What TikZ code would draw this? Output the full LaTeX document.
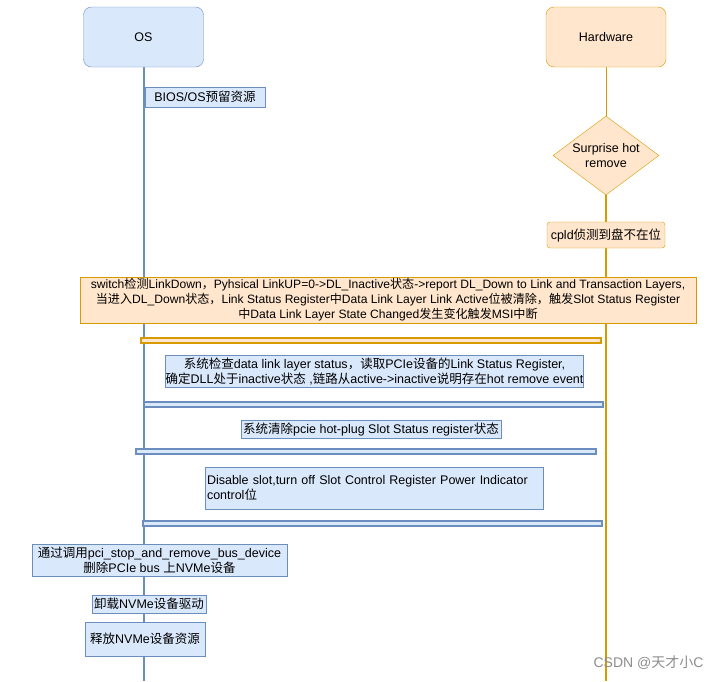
\documentclass[tikz,border=0pt]{standalone}
\usepackage{fontspec}
\setmainfont{Liberation Sans}
\newfontfamily\cjk{Noto Sans CJK SC}
\usetikzlibrary{shapes.geometric,backgrounds}
% CJK characters switch to the CJK font
\XeTeXinterchartokenstate=1
\newXeTeXintercharclass\cjkcls
\newcount\cjkc
\cjkc="4E00
\loop \XeTeXcharclass\cjkc=\cjkcls \advance\cjkc by 1 \ifnum\cjkc<"A000 \repeat
\XeTeXcharclass"FF0C=\cjkcls
\XeTeXinterchartoks 0 \cjkcls = {\begingroup\cjk}
\XeTeXinterchartoks 4095 \cjkcls = {\begingroup\cjk}
\XeTeXinterchartoks \cjkcls 0 = {\endgroup}
\XeTeXinterchartoks \cjkcls 4095 = {\endgroup}
\definecolor{osfill}{HTML}{DAE8FC}
\definecolor{osline}{HTML}{6C8EBF}
\definecolor{hwfill}{HTML}{FFE6CC}
\definecolor{hwline}{HTML}{D79B00}
\tikzset{
  every node/.style={font=\fontsize{12.5}{15}\selectfont, inner sep=0pt},
  osbox/.style={draw=osline, fill=osfill, rounded corners=8pt, minimum width=120pt, minimum height=60pt},
  hwbox/.style={draw=hwline, fill=hwfill, rounded corners=8pt, minimum width=120pt, minimum height=60pt},
  osnote/.style={draw=osline, fill=osfill, align=center},
  hwnote/.style={draw=hwline, fill=hwfill, align=center},
  osbar/.style={draw=osline, fill=osfill, line width=1.5pt, minimum height=5pt},
  hwbar/.style={draw=hwline, fill=hwfill, line width=1.5pt, minimum height=5pt}
}
\begin{document}
\begin{tikzpicture}[x=1pt,y=-1pt]
\useasboundingbox (0,0) rectangle (722,681);
% participants
\node[osbox] (os) at (143.5,37) {OS};
\node[hwbox] (hw) at (606,37) {Hardware};
\coordinate (osend) at (143.5,681);
\coordinate (hwend) at (606,681);
% hardware side
\node[diamond, draw=hwline, fill=hwfill, aspect=1.34, minimum width=106pt, minimum height=79pt, align=center] (surp) at (606,155.5) {Surprise hot\\remove};
\node[hwnote, rounded corners=3pt, minimum width=118pt, minimum height=26pt] (cpld) at (606,235) {cpld侦测到盘不在位};
% steps
\node[osnote, minimum width=120pt, minimum height=20pt] (bios) at (205,97) {BIOS/OS预留资源};
\node[hwnote, minimum width=616pt, minimum height=46pt, font=\fontsize{12.1}{15}\selectfont] (linkdown) at (388,300) {switch检测LinkDown，Pyhsical LinkUP=0->DL\_Inactive状态->report DL\_Down to Link and Transaction Layers,\\当进入DL\_Down状态，Link Status Register中Data Link Layer Link Active位被清除，触发Slot Status Register\\中Data Link Layer State Changed发生变化触发MSI中断};
\node[hwbar, minimum width=460pt] (bar1) at (371,340.5) {};
\node[osnote, minimum width=413pt, minimum height=32pt] (check) at (374.5,371) {系统检查data link layer status，读取PCIe设备的Link Status Register,\\确定DLL处于inactive状态 ,链路从active->inactive说明存在hot remove event};
\node[osbar, minimum width=459pt] (bar2) at (373.5,404.5) {};
\node[osnote, minimum width=260pt, minimum height=18pt] (clear) at (371,429) {系统清除pcie hot-plug Slot Status register状态};
\node[osbar, minimum width=460pt] (bar3) at (366,451.5) {};
\node[osnote, minimum width=338pt, minimum height=42pt, text width=334pt, align=left] (disable) at (374,488) {Disable slot,turn off Slot Control Register Power Indicator\\control位};
\node[osbar, minimum width=459pt] (bar4) at (372.5,523.5) {};
\node[osnote, minimum width=255pt, minimum height=32pt] (remove) at (159.5,560) {通过调用pci\_stop\_and\_remove\_bus\_device\\删除PCIe bus 上NVMe设备};
\node[osnote, minimum width=114pt, minimum height=18pt] (unload) at (149,604) {卸载NVMe设备驱动};
\node[osnote, minimum width=120pt, minimum height=34pt] (release) at (145,639) {释放NVMe设备资源};
\node[text=black!45, font=\fontsize{14}{16}\selectfont] (mark) at (648.5,663) {CSDN @天才小C};
% lifelines
\begin{scope}[on background layer]
\draw[osline, line width=2pt] (os.south) -- (osend);
\draw[hwline, line width=1pt] (hw.south) -- (surp.north);
\draw[hwline, line width=2pt] (surp.south) -- (cpld.north);
\draw[hwline, line width=2pt] (cpld.south) -- (hwend);
\end{scope}
\end{tikzpicture}
\end{document}
